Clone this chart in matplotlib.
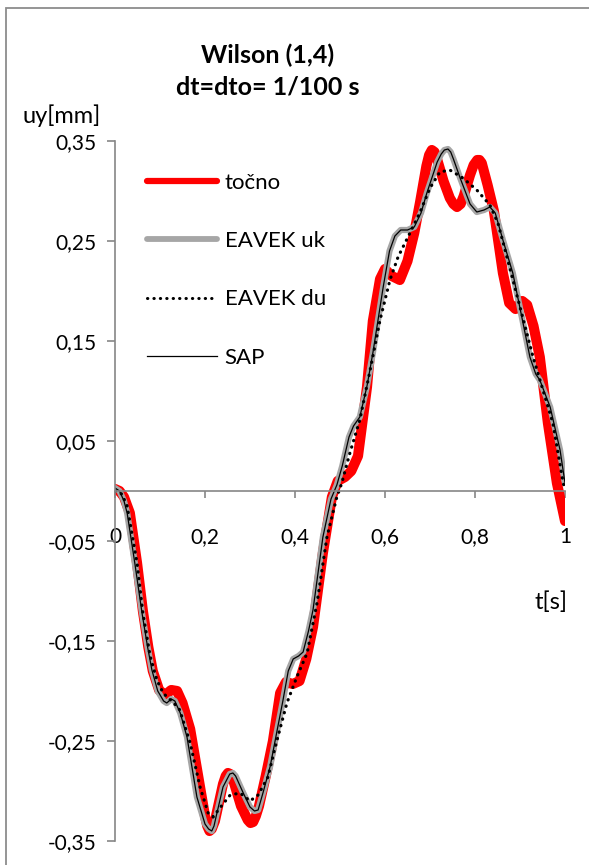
import matplotlib
matplotlib.use("Agg")
import matplotlib.pyplot as plt
from matplotlib.lines import Line2D
from matplotlib.patches import Rectangle

plt.rcParams['font.family'] = ['Lato', 'DejaVu Sans']

# točno (exact solution)
t_exact = [0.000, 0.010, 0.020, 0.033, 0.049, 0.062, 0.074, 0.084, 0.098, 0.111,
           0.125, 0.138, 0.150, 0.167, 0.189, 0.200, 0.205, 0.210, 0.215, 0.222,
           0.240, 0.246, 0.251, 0.256, 0.262, 0.280, 0.295, 0.301, 0.307, 0.313,
           0.320, 0.335, 0.351, 0.367, 0.380, 0.395, 0.410, 0.425, 0.440, 0.462,
           0.482, 0.495, 0.511, 0.525, 0.540, 0.560, 0.573, 0.589, 0.600, 0.615,
           0.633, 0.650, 0.665, 0.678, 0.692, 0.698, 0.704, 0.710, 0.715, 0.730,
           0.744, 0.752, 0.760, 0.768, 0.775, 0.789, 0.797, 0.805, 0.810, 0.815,
           0.828, 0.842, 0.862, 0.876, 0.890, 0.905, 0.916, 0.930, 0.944, 0.962,
           0.982, 1.000]
u_exact = [0.002, 0.000, -0.006, -0.022, -0.072, -0.120, -0.156, -0.180, -0.199, -0.204,
           -0.199, -0.200, -0.212, -0.238, -0.296, -0.325, -0.335, -0.340, -0.338, -0.330,
           -0.293, -0.285, -0.282, -0.283, -0.288, -0.315, -0.329, -0.332, -0.331, -0.325,
           -0.315, -0.285, -0.250, -0.202, -0.191, -0.193, -0.190, -0.168, -0.136, -0.062,
           -0.006, 0.010, 0.014, 0.020, 0.035, 0.104, 0.170, 0.212, 0.222, 0.215,
           0.211, 0.230, 0.258, 0.289, 0.325, 0.336, 0.341, 0.339, 0.333, 0.310,
           0.293, 0.287, 0.284, 0.287, 0.295, 0.316, 0.326, 0.331, 0.331, 0.328,
           0.306, 0.280, 0.218, 0.188, 0.182, 0.190, 0.186, 0.165, 0.134, 0.068,
           0.008, -0.030]

# EAVEK uk
t_uk = [0.000, 0.010, 0.020, 0.027, 0.044, 0.060, 0.072, 0.082, 0.095, 0.108,
        0.115, 0.125, 0.133, 0.145, 0.160, 0.182, 0.200, 0.208, 0.215, 0.220,
        0.225, 0.240, 0.255, 0.262, 0.268, 0.285, 0.300, 0.310, 0.318, 0.330,
        0.345, 0.360, 0.373, 0.385, 0.396, 0.408, 0.418, 0.430, 0.440, 0.462,
        0.480, 0.493, 0.505, 0.520, 0.530, 0.544, 0.560, 0.573, 0.596, 0.610,
        0.622, 0.635, 0.650, 0.665, 0.680, 0.693, 0.716, 0.725, 0.732, 0.740,
        0.746, 0.752, 0.767, 0.789, 0.804, 0.820, 0.833, 0.845, 0.862, 0.884,
        0.904, 0.922, 0.935, 0.944, 0.955, 0.967, 0.989, 1.000]
u_uk = [0.003, 0.000, -0.010, -0.022, -0.072, -0.122, -0.155, -0.179, -0.200, -0.210,
        -0.212, -0.208, -0.210, -0.222, -0.246, -0.306, -0.333, -0.338, -0.340, -0.335,
        -0.325, -0.296, -0.283, -0.282, -0.285, -0.302, -0.316, -0.320, -0.319, -0.300,
        -0.275, -0.240, -0.210, -0.180, -0.168, -0.165, -0.161, -0.140, -0.119, -0.046,
        -0.008, 0.006, 0.025, 0.054, 0.065, 0.074, 0.105, 0.138, 0.204, 0.240,
        0.255, 0.261, 0.261, 0.264, 0.278, 0.298, 0.329, 0.337, 0.341, 0.342,
        0.339, 0.332, 0.313, 0.287, 0.279, 0.281, 0.284, 0.278, 0.251, 0.218,
        0.174, 0.134, 0.117, 0.111, 0.098, 0.084, 0.041, 0.008]

# EAVEK du
t_du = [0.000, 0.015, 0.027, 0.049, 0.062, 0.078, 0.093, 0.107, 0.118, 0.129,
        0.144, 0.167, 0.189, 0.207, 0.218, 0.233, 0.256, 0.278, 0.300, 0.318,
        0.340, 0.356, 0.382, 0.404, 0.427, 0.449, 0.471, 0.493, 0.504, 0.522,
        0.544, 0.567, 0.589, 0.611, 0.629, 0.651, 0.678, 0.700, 0.722, 0.744,
        0.773, 0.804, 0.833, 0.851, 0.871, 0.900, 0.929, 0.951, 0.973, 0.996,
        1.000]
u_du = [0.000, -0.003, -0.015, -0.072, -0.122, -0.165, -0.189, -0.202, -0.207, -0.211,
        -0.219, -0.252, -0.296, -0.322, -0.326, -0.317, -0.304, -0.302, -0.310, -0.304,
        -0.286, -0.256, -0.212, -0.186, -0.162, -0.112, -0.046, -0.006, 0.008, 0.038,
        0.071, 0.121, 0.171, 0.211, 0.234, 0.254, 0.279, 0.303, 0.319, 0.321,
        0.313, 0.301, 0.286, 0.268, 0.234, 0.184, 0.134, 0.101, 0.068, 0.008,
        0.002]

# SAP follows EAVEK uk in the picture
t_sap = t_uk
u_sap = u_uk

y_ticks = [-0.35, -0.25, -0.15, -0.05, 0.05, 0.15, 0.25, 0.35]
x_ticks = [0, 0.2, 0.4, 0.6, 0.8, 1]

W, H = 589, 865
fig = plt.figure(figsize=(W / 100, H / 100), dpi=100)
ax = fig.add_axes([115 / W, 1 - 841 / H, 450 / W, 700 / H])

axis_col = '#868686'
ax.plot(t_exact, u_exact, color='#ff0000', lw=7.3, solid_capstyle='round', solid_joinstyle='round')
ax.plot(t_uk, u_uk, color='#a6a6a6', lw=4.5, solid_capstyle='round', solid_joinstyle='round')
ax.plot(t_du, u_du, color='black', lw=2.3, linestyle=(0, (0.1, 2.0)), dash_capstyle='round')
ax.plot(t_sap, u_sap, color='black', lw=0.9)

ax.set_xlim(0, 1)
ax.set_ylim(-0.35, 0.35)
for s in ['top', 'right']:
    ax.spines[s].set_visible(False)
ax.spines['bottom'].set_position(('data', 0))
for s in ['left', 'bottom']:
    ax.spines[s].set_color(axis_col)
    ax.spines[s].set_linewidth(1.2)

ax.set_yticks(y_ticks)
ax.set_yticklabels([f"{v:.2f}".replace('.', ',') for v in y_ticks])
ax.set_xticks(x_ticks)
ax.set_xticklabels([f"{v:g}".replace('.', ',') for v in x_ticks])
ax.tick_params(axis='y', direction='out', length=6, width=1.2, color=axis_col,
               labelsize=15, pad=7)
ax.tick_params(axis='x', direction='out', length=5, width=1.2, color=axis_col,
               labelsize=15, pad=21)
ax.patch.set_alpha(0)

handles = [
    Line2D([], [], color='#ff0000', lw=4.5, solid_capstyle='round'),
    Line2D([], [], color='#a6a6a6', lw=4.2, solid_capstyle='round'),
    Line2D([], [], color='black', lw=2.2, linestyle=(0, (0.1, 2.0)), dash_capstyle='round'),
    Line2D([], [], color='black', lw=0.9),
]
labels = ['točno', 'EAVEK uk', 'EAVEK du', 'SAP']
ax.legend(handles, labels, loc='upper left', bbox_to_anchor=(147 / W, 1 - 173 / H),
          bbox_transform=fig.transFigure, frameon=False, fontsize=16,
          handlelength=3.15, handletextpad=0.35, labelspacing=1.72,
          borderpad=0, borderaxespad=0)

fig.text(268 / W, 1 - 71 / H, "Wilson (1,4)\ndt=dto= 1/100 s", ha='center', va='center',
         fontsize=18, fontweight='bold', linespacing=1.45)
fig.text(22 / W, 1 - 116 / H, "uy[mm]", ha='left', va='center', fontsize=17)
fig.text(551 / W, 1 - 602 / H, "t[s]", ha='center', va='center', fontsize=17)

fig.patches.append(Rectangle((5.5 / W, -0.1), 1.2, 1 - 8.5 / H + 0.1, transform=fig.transFigure,
                             fill=False, edgecolor='#8c8c8c', lw=1.3))

fig.savefig('out.png', dpi=100)
